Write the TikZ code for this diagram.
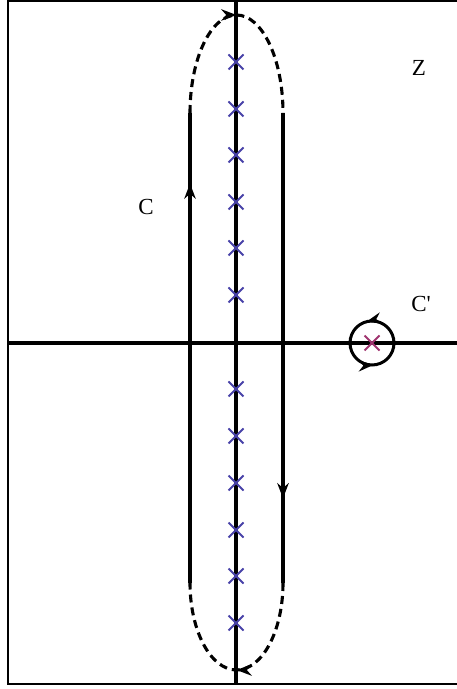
\documentclass[tikz,border=0pt]{standalone}
\usepackage{fontspec}
\setmainfont{Liberation Serif}
\usepackage{tikz}
\usetikzlibrary{positioning}
\usetikzlibrary{arrows.meta}
\usetikzlibrary{shapes.misc}
\usetikzlibrary{decorations.markings}
\definecolor{poleblue}{RGB}{72,66,168}
\definecolor{polered}{RGB}{160,52,112}

\begin{document}
\begin{tikzpicture}[
    x=1pt, y=1pt,
    axis/.style={line width=3.1pt},
    leg/.style={
      line width=3.1pt,
      postaction={decorate},
      decoration={
        markings,
        mark=at position #1 with {\arrow[scale=0.9]{Stealth}}
      }
    },
    leg/.default=0.5,
    legd/.style={
      leg,
      dash pattern=on 8pt off 5pt
    },
    pole/.style={
      cross out,
      draw=poleblue,
      line width=2pt,
      minimum size=13pt,
      inner sep=0pt
    },
    lbl/.style={font=\fontsize{23}{27}\selectfont}
  ]

  \useasboundingbox (0,0) rectangle (457,689);
  \draw[line width=1.6pt] (470,688) -- (8,688) -- (8,5) -- (470,5);

  % axes
  \draw[axis] (8,346) -- (457,346);
  \draw[axis] (236,5) -- (236,688);

  % poles on the imaginary axis
  \node[pole] (p1) at (236,627) {};
  \node[pole] (p2) at (236,580) {};
  \node[pole] (p3) at (236,534) {};
  \node[pole] (p4) at (236,487) {};
  \node[pole] (p5) at (236,441) {};
  \node[pole] (p6) at (236,394) {};
  \node[pole] (q1) at (236,300) {};
  \node[pole] (q2) at (236,253) {};
  \node[pole] (q3) at (236,206) {};
  \node[pole] (q4) at (236,159) {};
  \node[pole] (q5) at (236,113) {};
  \node[pole] (q6) at (236,66) {};

  % contour C
  \coordinate (lb) at (190,106);
  \coordinate (lt) at (190,576);
  \coordinate (rt) at (283,576);
  \coordinate (rb) at (283,106);
  \draw[leg=0.85] (lb) -- (lt);
  \draw[legd] (lt) arc[start angle=180, end angle=0, x radius=46.5, y radius=98];
  \draw[leg=0.82] (rt) -- (rb);
  \draw[legd] (rb) arc[start angle=0, end angle=-180, x radius=46.5, y radius=87];

  % contour C'
  \node[pole, draw=polered] (r) at (372,346) {};
  \draw[line width=3pt, postaction={decorate},
    decoration={markings,
      mark=at position 0.29 with {\arrow[scale=0.9]{Stealth}},
      mark=at position 0.76 with {\arrow[scale=0.9]{Stealth}}}]
    (r) circle[radius=22];

  % labels
  \node[lbl] (zlbl) at (419,621) {Z};
  \node[lbl] (clbl) at (146,482) {C};
  \node[lbl] (cplbl) at (421,385) {C\textquotesingle};
\end{tikzpicture}
\end{document}
